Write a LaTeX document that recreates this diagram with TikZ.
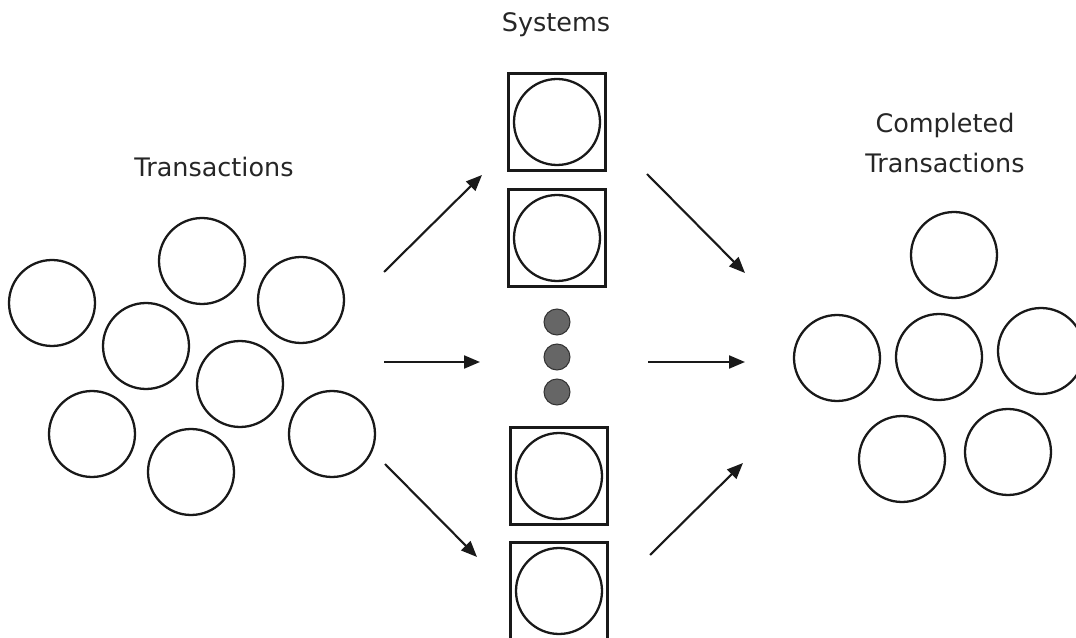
\documentclass[tikz,border=0pt]{standalone}
\usepackage{fontspec}
\setmainfont{DejaVu Sans}
\usetikzlibrary{arrows.meta}
\definecolor{dotgray}{HTML}{666666}
\begin{document}
\begin{tikzpicture}[x=0.02cm, y=-0.02cm,
        txn/.style={circle, draw=black!90, line width=1.3pt, minimum size=1.72cm, inner sep=0pt},
        sysbox/.style={rectangle, draw=black!90, line width=1.5pt, minimum size=1.94cm, inner sep=0pt},
        dot/.style={circle, draw=black!80, fill=dotgray, line width=0.6pt, minimum size=0.52cm, inner sep=0pt},
        flow/.style={line width=1.2pt, draw=black!90, -{Triangle[length=0.32cm, width=0.26cm]}},
        label/.style={anchor=base, font=\fontsize{14.5}{17}\selectfont, text=black!85}]

        \clip (0,0) rectangle (1076,638);
        \useasboundingbox (0,0) rectangle (1076,638);

        \begin{scope}
            \node[label] (inlbl) at (214, 177) {Transactions};

            \node[txn] (in1) at (52, 303) {};
            \node[txn] (in2) at (202, 261) {};
            \node[txn] (in3) at (301, 300) {};
            \node[txn] (in4) at (146, 346) {};
            \node[txn] (in5) at (240, 384) {};
            \node[txn] (in6) at (92, 434) {};
            \node[txn] (in7) at (191, 472) {};
            \node[txn] (in8) at (332, 434) {};
        \end{scope}

        \begin{scope}
            \node[label] (syslbl) at (556, 32) {Systems};

            \node[sysbox] (sys1) at (557, 122) {};
            \node[txn] (sys1c) at (sys1) {};
            \node[sysbox] (sys2) at (557, 238) {};
            \node[txn] (sys2c) at (sys2) {};

            \node[dot] (dot1) at (557, 322) {};
            \node[dot] (dot2) at (557, 357) {};
            \node[dot] (dot3) at (557, 392) {};

            \node[sysbox] (sys3) at (559, 476) {};
            \node[txn] (sys3c) at (sys3) {};
            \node[sysbox] (sys4) at (559, 591) {};
            \node[txn] (sys4c) at (sys4) {};
        \end{scope}

        \begin{scope}
            \node[label] (outlbl1) at (945, 133) {Completed};
            \node[label] (outlbl2) at (945, 173) {Transactions};

            \node[txn] (out1) at (954, 255) {};
            \node[txn] (out2) at (837, 358) {};
            \node[txn] (out3) at (939, 357) {};
            \node[txn] (out4) at (1041, 351) {};
            \node[txn] (out5) at (902, 459) {};
            \node[txn] (out6) at (1008, 452) {};
        \end{scope}

        \coordinate (inA) at (384, 272);
        \coordinate (inB) at (384, 362);
        \coordinate (inC) at (385, 464);
        \coordinate (sysinA) at (482, 175);
        \coordinate (sysinB) at (480, 362);
        \coordinate (sysinC) at (477, 557);
        \coordinate (sysoutA) at (647, 174);
        \coordinate (sysoutB) at (648, 362);
        \coordinate (sysoutC) at (650, 555);
        \coordinate (outA) at (745, 273);
        \coordinate (outB) at (745, 362);
        \coordinate (outC) at (743, 463);

        \draw[flow] (inA) -- (sysinA);
        \draw[flow] (inB) -- (sysinB);
        \draw[flow] (inC) -- (sysinC);
        \draw[flow] (sysoutA) -- (outA);
        \draw[flow] (sysoutB) -- (outB);
        \draw[flow] (sysoutC) -- (outC);

\end{tikzpicture}
\end{document}
